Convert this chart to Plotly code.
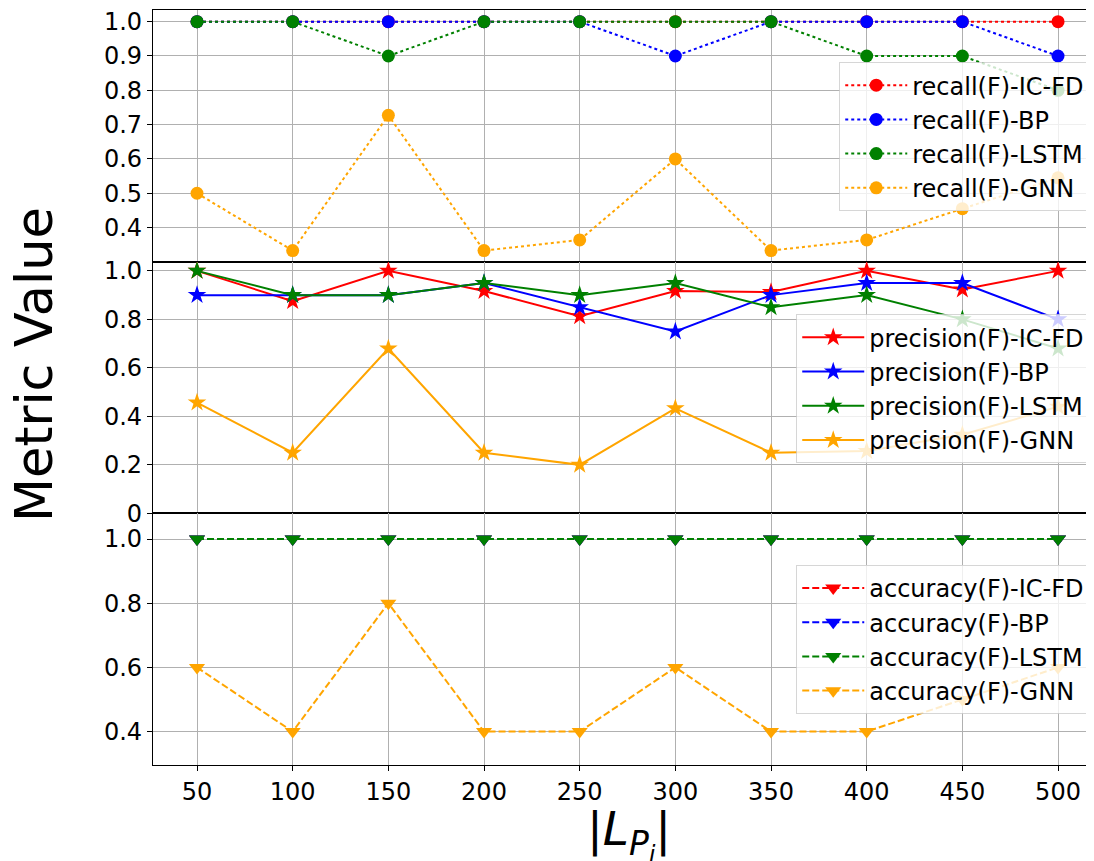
import plotly.graph_objects as go
from plotly.subplots import make_subplots

x_vals = [50, 100, 150, 200, 250, 300, 350, 400, 450, 500]
methods = ["IC-FD", "BP", "LSTM", "GNN"]
colors = ["#ff0000", "#0000ff", "#008000", "#ffa500"]

recall_icfd = [1.0, 1.0, 1.0, 1.0, 1.0, 1.0, 1.0, 1.0, 1.0, 1.0]
recall_bp = [1.0, 1.0, 1.0, 1.0, 1.0, 0.9, 1.0, 1.0, 1.0, 0.9]
recall_lstm = [1.0, 1.0, 0.9, 1.0, 1.0, 1.0, 1.0, 0.9, 0.9, 0.8]
recall_gnn = [0.5, 0.333, 0.727, 0.333, 0.364, 0.6, 0.333, 0.364, 0.455, 0.545]

precision_icfd = [1.0, 0.875, 1.0, 0.917, 0.813, 0.917, 0.913, 1.0, 0.923, 1.0]
precision_bp = [0.9, 0.9, 0.9, 0.95, 0.85, 0.75, 0.9, 0.95, 0.95, 0.8]
precision_lstm = [1.0, 0.9, 0.9, 0.95, 0.9, 0.95, 0.85, 0.9, 0.8, 0.68]
precision_gnn = [0.457, 0.25, 0.68, 0.25, 0.2, 0.433, 0.25, 0.257, 0.324, 0.44]

accuracy_icfd = [1.0, 1.0, 1.0, 1.0, 1.0, 1.0, 1.0, 1.0, 1.0, 1.0]
accuracy_bp = [1.0, 1.0, 1.0, 1.0, 1.0, 1.0, 1.0, 1.0, 1.0, 1.0]
accuracy_lstm = [1.0, 1.0, 1.0, 1.0, 1.0, 1.0, 1.0, 1.0, 1.0, 1.0]
accuracy_gnn = [0.6, 0.4, 0.8, 0.4, 0.4, 0.6, 0.4, 0.4, 0.5, 0.6]

recall = [recall_icfd, recall_bp, recall_lstm, recall_gnn]
precision = [precision_icfd, precision_bp, precision_lstm, precision_gnn]
accuracy = [accuracy_icfd, accuracy_bp, accuracy_lstm, accuracy_gnn]

FONT = "DejaVu Sans"

fig = make_subplots(rows=3, cols=1, shared_xaxes=True, vertical_spacing=0)

panels = [
    (recall, "recall", "circle", "dot", "legend", 1, 13),
    (precision, "precision", "star", "solid", "legend2", 2, 14),
    (accuracy, "accuracy", "triangle-down", "7px,3px", "legend3", 3, 14),
]

for data, name, sym, dash, leg, row, msize in panels:
    for series, m, c in zip(data, methods, colors):
        fig.add_trace(
            go.Scatter(
                x=x_vals, y=series, mode="lines+markers",
                name=f"{name}(F)-{m}",
                line=dict(color=c, width=2, dash=dash),
                marker=dict(symbol=sym, size=msize, color=c, line=dict(width=0)),
                legend=leg,
            ),
            row=row, col=1,
        )

axis_common = dict(
    showgrid=True, gridcolor="#b0b0b0", gridwidth=1,
    showline=True, linecolor="black", linewidth=1.2,
    ticks="outside", ticklen=5, tickcolor="black",
    tickfont=dict(family=FONT, size=24, color="black"),
    zeroline=False, automargin=False,
)

for r in (1, 2, 3):
    fig.update_xaxes(
        range=[27.0, 518.8], tickvals=x_vals, mirror=True,
        showticklabels=(r == 3), row=r, col=1, **axis_common,
    )

fig.update_yaxes(range=[0.3007, 1.034], tickvals=[0.4, 0.5, 0.6, 0.7, 0.8, 0.9, 1.0],
                 ticktext=["0.4", "0.5", "0.6", "0.7", "0.8", "0.9", "1.0"], row=1, col=1, **axis_common)
fig.update_yaxes(range=[0.0, 1.038], tickvals=[0, 0.2, 0.4, 0.6, 0.8, 1.0],
                 ticktext=["0", "0.2", "0.4", "0.6", "0.8", "1.0"], row=2, col=1, **axis_common)
fig.update_yaxes(range=[0.296, 1.08], tickvals=[0.4, 0.6, 0.8, 1.0],
                 ticktext=["0.4", "0.6", "0.8", "1.0"], row=3, col=1, **axis_common)

legend_common = dict(
    bgcolor="rgba(255,255,255,0.8)", bordercolor="rgba(204,204,204,0.8)", borderwidth=1,
    font=dict(family=FONT, size=24, color="black"), xanchor="right", yanchor="top",
    itemwidth=62, tracegroupgap=0,
)

fig.update_layout(
    width=1086, height=853,
    margin=dict(l=145, r=0, t=2, b=96, autoexpand=False),
    paper_bgcolor="white", plot_bgcolor="white",
    showlegend=True,
    legend=dict(x=0.996, y=0.931, **legend_common),
    legend2=dict(x=0.996, y=0.597, **legend_common),
    legend3=dict(x=0.996, y=0.265, **legend_common),
    annotations=[
        dict(text="Metric Value", xref="paper", yref="paper", x=-0.1266, y=0.531,
             xanchor="center", yanchor="middle", textangle=-90, showarrow=False,
             font=dict(family=FONT, size=51, color="black")),
        dict(text="|<i>L</i><sub><i>P<sub>i</sub></i></sub>|", xref="paper", yref="paper",
             x=0.506, y=-0.091, xanchor="center", yanchor="middle", showarrow=False,
             font=dict(family=FONT, size=47, color="black")),
    ],
)

fig.write_html("out.html")
